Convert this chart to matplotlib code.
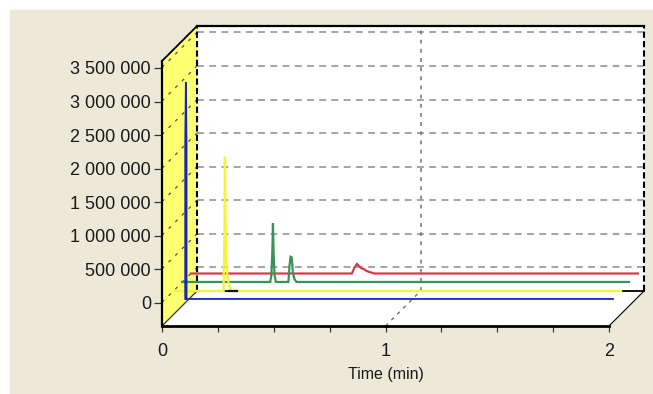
import numpy as np
import matplotlib
matplotlib.use('Agg')
import matplotlib.pyplot as plt
from matplotlib.lines import Line2D
from matplotlib.patches import Polygon, Rectangle
from matplotlib.transforms import IdentityTransform

W, H, DPI = 653, 394, 100

# axis ticks
y_ticks = [0, 500000, 1000000, 1500000, 2000000, 2500000, 3000000, 3500000]
y_labels = ['0', '500 000', '1 000 000', '1 500 000', '2 000 000',
            '2 500 000', '3 000 000', '3 500 000']
grid_values = [500000, 1000000, 1500000, 2000000, 2500000, 3000000, 3500000, 4000000]
x_ticks = [0, 0.25, 0.5, 0.75, 1, 1.25, 1.5, 1.75, 2]
x_labels = ['0', '', '', '', '1', '', '', '', '2']

# traces (time in min, intensity)
blue_t = [0.086, 0.086, 0.089, 0.092, 0.092, 2.0]
blue_v = [0, 2280000, 3230000, 2280000, 0, 0]

yellow_t = [0.0, 0.222, 0.226, 0.228, 0.232, 0.238, 0.245, 0.255, 2.0]
yellow_v = [0, 0, 900000, 2000000, 600000, 250000, 100000, 0, 0]

tail_t = [0.245, 0.282]
tail_v = [0, 0]

green_t = [0.0, 0.395, 0.400, 0.404, 0.407, 0.410, 0.414, 0.420,
           0.476, 0.481, 0.486, 0.491, 0.496, 0.503, 0.512, 2.0]
green_v = [15000, 15000, 120000, 440000, 890000, 430000, 120000, 15000,
           15000, 260000, 390000, 380000, 150000, 60000, 15000, 15000]

red_t = [0.0, 0.72, 0.732, 0.743, 0.752, 0.762, 0.772, 0.785, 0.82, 2.0]
red_v = [7000, 7000, 100000, 150000, 115000, 85000, 75000, 45000, 7000, 7000]

# how far each trace sits behind the front plane (px)
DEPTH = 35
traces = [
    (red_t, red_v, 29, '#d43d4e', 1.6),
    (green_t, green_v, 20, '#3a9258', 1.6),
    (yellow_t, yellow_v, 12, '#f4f43c', 1.7),
    (tail_t, tail_v, 12, '#111111', 1.6),
    (blue_t, blue_v, 4, '#1a28b0', 1.3),
]

fig = plt.figure(figsize=(W / DPI, H / DPI), dpi=DPI, facecolor='white')
fig.add_artist(Rectangle((10 / W, 0), (W - 10) / W, (H - 10) / H,
                         transform=fig.transFigure, color='#ECE9D8', zorder=-10))

ax = fig.add_axes([162 / W, (H - 326) / H, 447 / W, 265 / H])
ax.set_facecolor('none')
ax.set_xlim(0, 2)
ax.set_ylim(-343000, 3604000)
VMIN, VMAX = ax.get_ylim()


def proj(t, v, dx=0.0, dy=0.0):
    pts = ax.transData.transform(
        np.column_stack([np.atleast_1d(t), np.atleast_1d(v)]).astype(float))
    pts[:, 0] += dx
    pts[:, 1] += dy
    return pts


def line(pts, **kw):
    ax.add_line(Line2D(pts[:, 0], pts[:, 1], transform=IdentityTransform(),
                       clip_on=False, **kw))


def poly(pts, **kw):
    ax.add_patch(Polygon(pts, closed=True, transform=IdentityTransform(),
                         clip_on=False, **kw))


D = DEPTH
# walls
back = np.vstack([proj(0, VMIN, D, D), proj(2, VMIN, D, D),
                  proj(2, VMAX, D, D), proj(0, VMAX, D, D)])
poly(back, facecolor='white', edgecolor='none', zorder=1)
floor = np.vstack([proj(0, VMIN), proj(2, VMIN), proj(2, VMIN, D, D), proj(0, VMIN, D, D)])
poly(floor, facecolor='white', edgecolor='none', zorder=1)
left = np.vstack([proj(0, VMIN), proj(0, VMAX), proj(0, VMAX, D, D), proj(0, VMIN, D, D)])
poly(left, facecolor='#ffff72', edgecolor='none', zorder=1)

# grid on back wall and left wall
for g in grid_values:
    line(np.vstack([proj(0, g, D, 2), proj(2, g, D, 2)]),
         color='#8c8c8c', lw=1.1, dashes=(4.5, 3.5), zorder=2)
    line(np.vstack([proj(0, g, 0, 2 - D), proj(0, g, D, 2)]),
         color='#505050', lw=0.9, dashes=(2.5, 5), zorder=2)
line(np.vstack([proj(1, VMIN, D, D), proj(1, VMAX, D, D)]),
     color='#707070', lw=1.1, dashes=(2.5, 3.5), zorder=2)
line(np.vstack([proj(1, VMIN), proj(1, VMIN, D, D)]),
     color='#707070', lw=1.0, dashes=(2.5, 3.5), zorder=2)

# box edges
line(np.vstack([proj(0, VMAX, D, D), proj(2, VMAX, D, D)]), color='black', lw=1.6, zorder=3)
line(np.vstack([proj(0, VMAX), proj(0, VMAX, D, D)]), color='black', lw=1.3, zorder=3)
line(np.vstack([proj(0, VMIN, D, D), proj(0, VMAX, D, D)]),
     color='black', lw=1.5, dashes=(3, 1.5), zorder=3)
line(np.vstack([proj(2, VMIN, D, D), proj(2, VMAX, D, D)]),
     color='black', lw=1.5, dashes=(3, 1.5), zorder=3)
line(np.vstack([proj(0, VMIN, D, D), proj(2, VMIN, D, D)]), color='black', lw=1.3, zorder=3)
line(np.vstack([proj(2, VMIN), proj(2, VMIN, D, D)]), color='black', lw=0.8, zorder=3)
line(np.vstack([proj(0, VMIN), proj(0, VMIN, D, D)]), color='#333333', lw=0.9, zorder=3)

# traces
for t, v, d, c, lw in traces:
    line(proj(t, v, d, d), color=c, lw=lw, zorder=4, solid_joinstyle='miter')

# axes
for s in ('top', 'right'):
    ax.spines[s].set_visible(False)
ax.spines['left'].set_linewidth(1.6)
ax.spines['bottom'].set_linewidth(2.0)
for s in ('left', 'bottom'):
    ax.spines[s].set_zorder(5)

font = 'Liberation Sans'
ax.set_yticks(y_ticks)
ax.set_yticklabels(y_labels, fontsize=13, family=font, color='#1a1a1a')
ax.set_xticks(x_ticks)
ax.set_xticklabels(x_labels, fontsize=13, family=font, color='#1a1a1a')
ax.tick_params(axis='y', length=6, width=0.9, pad=2, color='#333333')
ax.tick_params(axis='x', length=4.5, width=0.9, pad=8, color='#333333')
ax.set_xlabel('Time (min)', fontsize=11.5, family=font, color='#1a1a1a', labelpad=5)

fig.savefig('out.png', dpi=DPI, facecolor=fig.get_facecolor())
